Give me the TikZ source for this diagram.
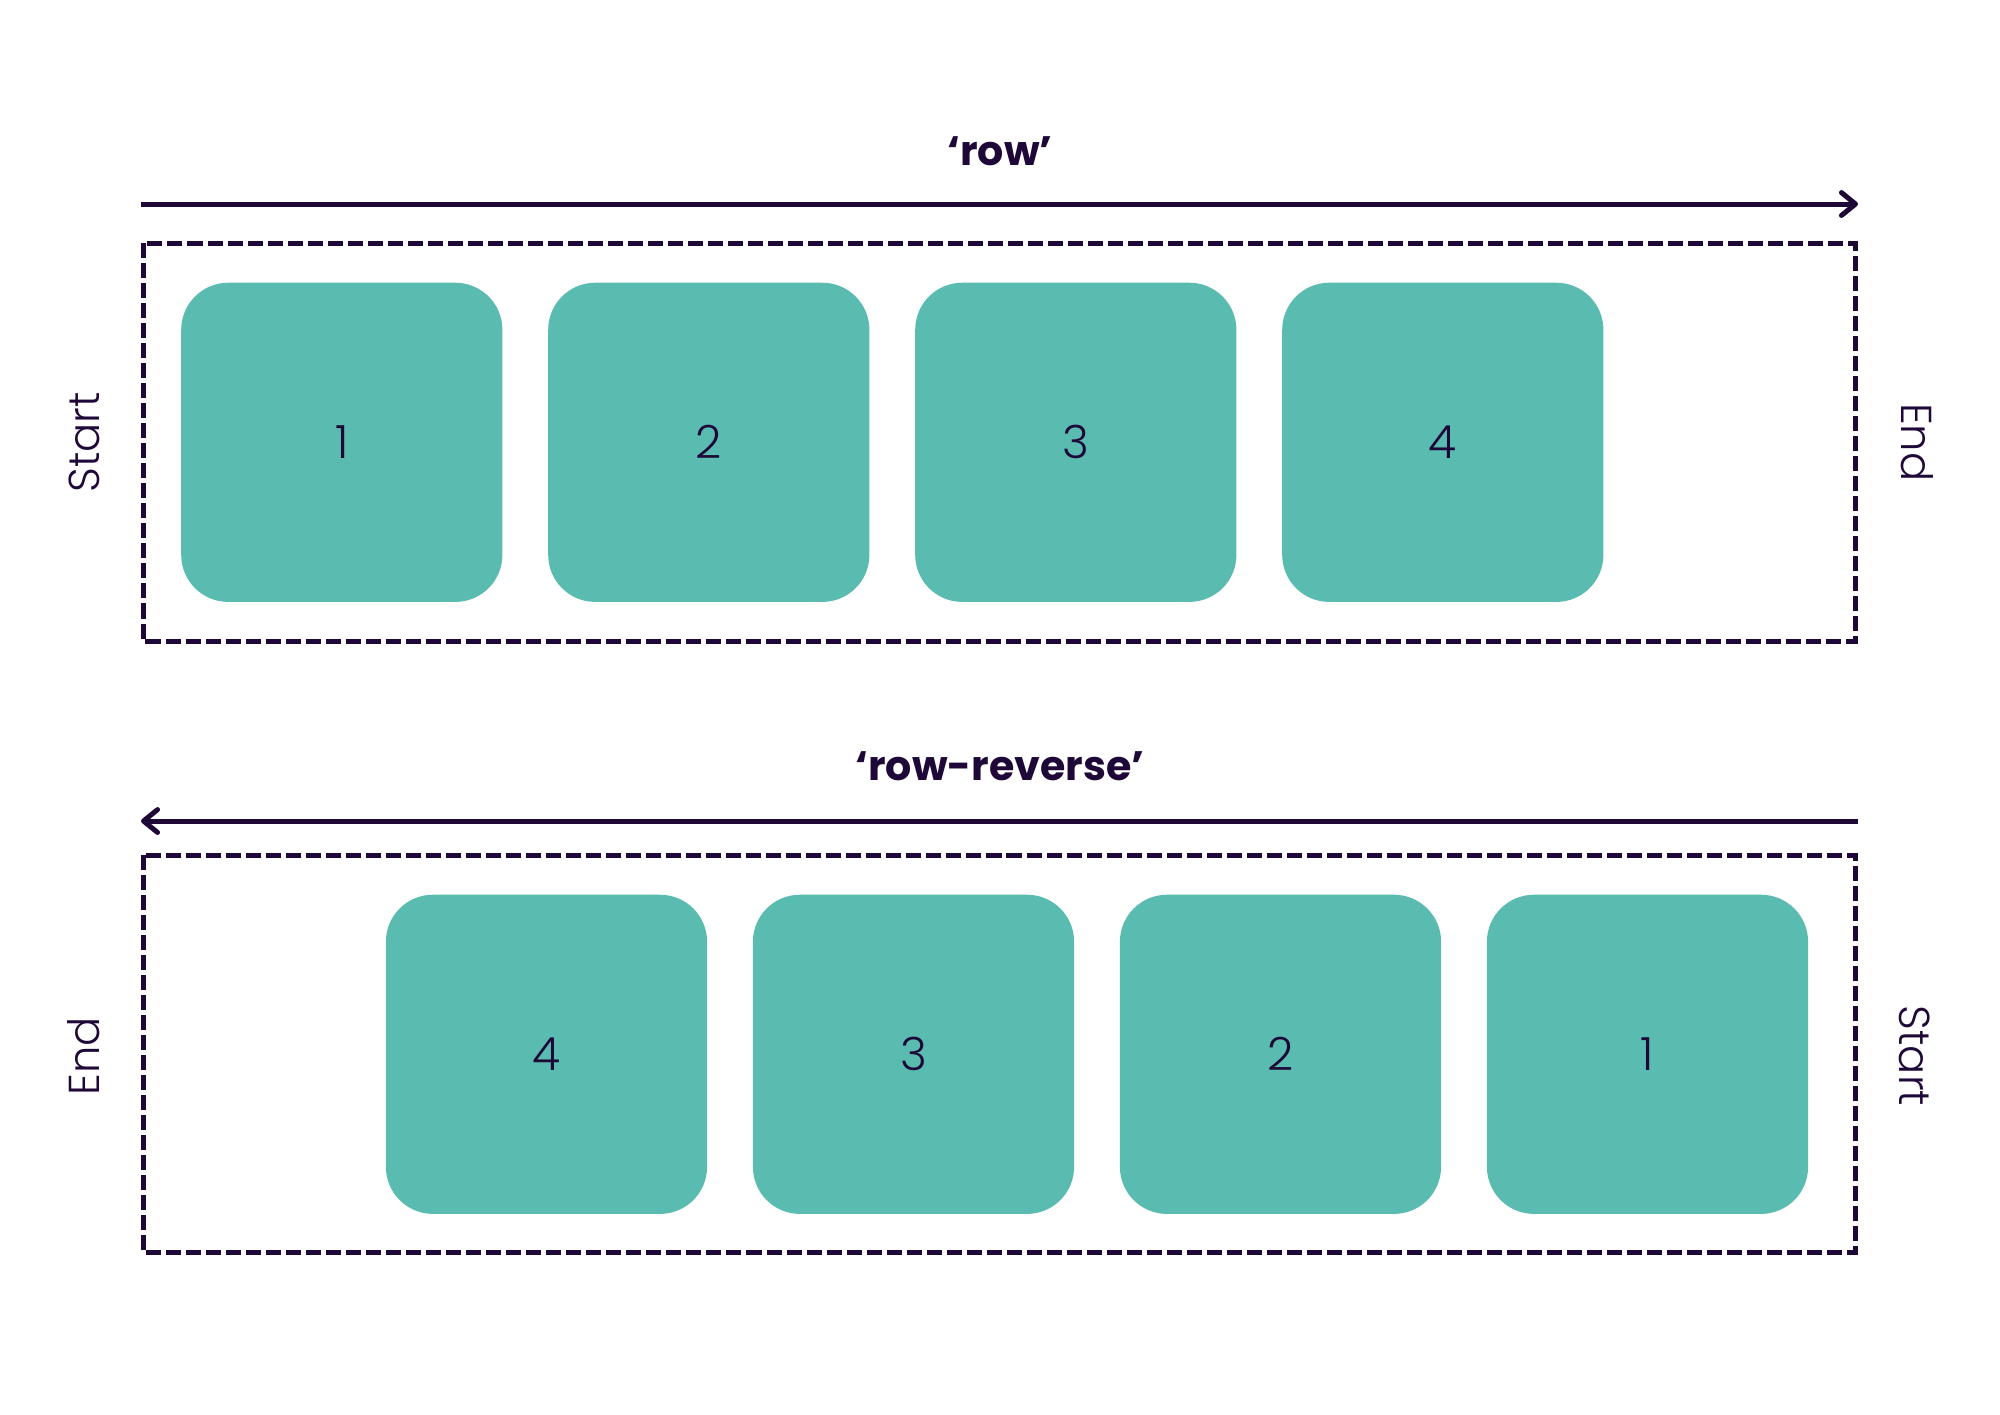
\documentclass[tikz,border=0pt]{standalone}
\usepackage{fontspec}
\setmainfont{Poppins}
\newfontfamily\lightfont{Poppins}[UprightFont=* Light]
\usetikzlibrary{arrows.meta}
\definecolor{inkpurple}{HTML}{1E0838}
\definecolor{tealbox}{HTML}{5ABCB0}
\tikzset{
  flexitem/.style={fill=tealbox, rounded corners=0.47cm, minimum width=3.21cm, minimum height=3.19cm, inner sep=0pt, text=inkpurple, font=\lightfont\fontsize{13}{15}\selectfont},
  container/.style={draw=inkpurple, line width=1.42pt, dash pattern=on 4.27pt off 1.42pt},
  axisarrow/.style={draw=inkpurple, line width=1.42pt, -{Straight Barb[length=4pt, width=6.5pt, line cap=round, line join=round]}},
  sidelabel/.style={text=inkpurple, font=\lightfont\fontsize{12.3}{15}\selectfont, inner sep=0pt},
  titlelabel/.style={text=inkpurple, font=\bfseries\fontsize{11.7}{14}\selectfont, inner sep=0pt, anchor=base}
}
\begin{document}
\begin{tikzpicture}[x={(0.01cm,0)}, y={(0,-0.01cm)}]
\useasboundingbox[fill=white] (0,0) rectangle (2000,1414);
% top: row
\node[titlelabel] (t1) at (1000,165.7) {‘row’};
\coordinate (a1s) at (141,204);
\coordinate (a1e) at (1858,204);
\draw[axisarrow] (a1s) -- (a1e);
\coordinate (c1a) at (143.7,243.3);
\coordinate (c1b) at (1855.7,641.7);
\draw[container] (c1a) rectangle (c1b);
\node[flexitem] (r1) at (341.8,442.3) {1};
\node[flexitem] (r2) at (708.8,442.3) {2};
\node[flexitem] (r3) at (1075.8,442.3) {3};
\node[flexitem] (r4) at (1442.8,442.3) {4};
\node[sidelabel, rotate=90] (s1) at (84,442.3) {Start};
\node[sidelabel, rotate=-90] (e1) at (1917,442.3) {End};
% bottom: row-reverse
\node[titlelabel] (t2) at (1000,780) {‘row-reverse’};
\coordinate (a2s) at (1858,821);
\coordinate (a2e) at (141,821);
\draw[axisarrow] (a2s) -- (a2e);
\coordinate (c2a) at (143.7,855);
\coordinate (c2b) at (1855.7,1252.7);
\draw[container] (c2a) rectangle (c2b);
\node[flexitem] (q4) at (546.5,1054.3) {4};
\node[flexitem] (q3) at (913.5,1054.3) {3};
\node[flexitem] (q2) at (1280.5,1054.3) {2};
\node[flexitem] (q1) at (1647.5,1054.3) {1};
\node[sidelabel, rotate=90] (e2) at (84,1056) {End};
\node[sidelabel, rotate=-90] (s2) at (1915,1056) {Start};
\end{tikzpicture}
\end{document}
